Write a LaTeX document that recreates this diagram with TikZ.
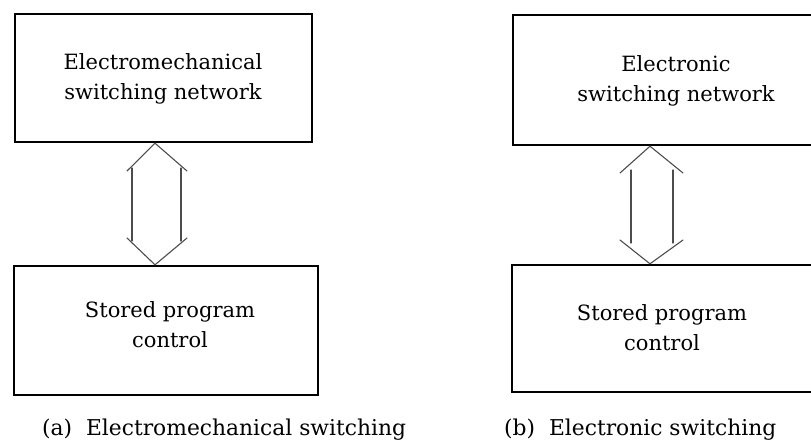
\documentclass[tikz,border=0pt]{standalone}
\usepackage{fontspec}
\setmainfont{DejaVu Serif}
\begin{document}
\begin{tikzpicture}[x=1pt,y=-1pt,
  box/.style={draw, line width=2.4pt, inner sep=0pt, rectangle},
  boxtext/.style={align=center, inner sep=0pt, font=\fontsize{21}{30}\selectfont},
  captext/.style={anchor=base west, inner sep=0pt, font=\fontsize{21.8}{25}\selectfont},
  dbl/.style={line width=1.1pt, draw=black!70, line cap=round}]
\useasboundingbox (0,0) rectangle (811,440);
\clip (0,0) rectangle (811,440);
% left column
\node[box, minimum width=297pt, minimum height=128pt] (tl) at (163.5,78) {};
\node[box, minimum width=304pt, minimum height=129pt] (bl) at (166,330.5) {};
\node[boxtext] (tlt) at (163,79) {Electromechanical\\switching network};
\node[boxtext] (blt) at (170,325) {Stored program\\control};
% right column
\node[box, minimum width=306pt, minimum height=130pt] (tr) at (666,80) {};
\node[box, minimum width=307pt, minimum height=127pt] (br) at (665.5,328.5) {};
\node[boxtext] (trt) at (676,81) {Electronic\\switching network};
\node[boxtext] (brt) at (662,328) {Stored program\\control};
% left hollow double arrow
\coordinate (la) at (155,0);
\coordinate (lwl) at (127,171);
\coordinate (lwr) at (187,171);
\coordinate (lbl) at (127,238);
\coordinate (lbr) at (187,238);
\draw[dbl] (lwl) -- (tl.south -| la) -- (lwr);
\draw[dbl] (132,168) -- (132,241);
\draw[dbl] (181,168) -- (181,241);
\draw[dbl] (lbl) -- (bl.north -| la) -- (lbr);
% right hollow double arrow
\coordinate (ra) at (650,0);
\coordinate (rwl) at (620,173);
\coordinate (rwr) at (683,173);
\coordinate (rbl) at (620,240);
\coordinate (rbr) at (683,240);
\draw[dbl] (rwl) -- (tr.south -| ra) -- (rwr);
\draw[dbl] (631,170) -- (631,243);
\draw[dbl] (673,170) -- (673,243);
\draw[dbl] (rbl) -- (br.north -| ra) -- (rbr);
% captions
\node[captext] (capa) at (42,435) {(a)\ \ Electromechanical switching};
\node[captext] (capb) at (504,435) {(b)\ \ Electronic switching};
\end{tikzpicture}
\end{document}
